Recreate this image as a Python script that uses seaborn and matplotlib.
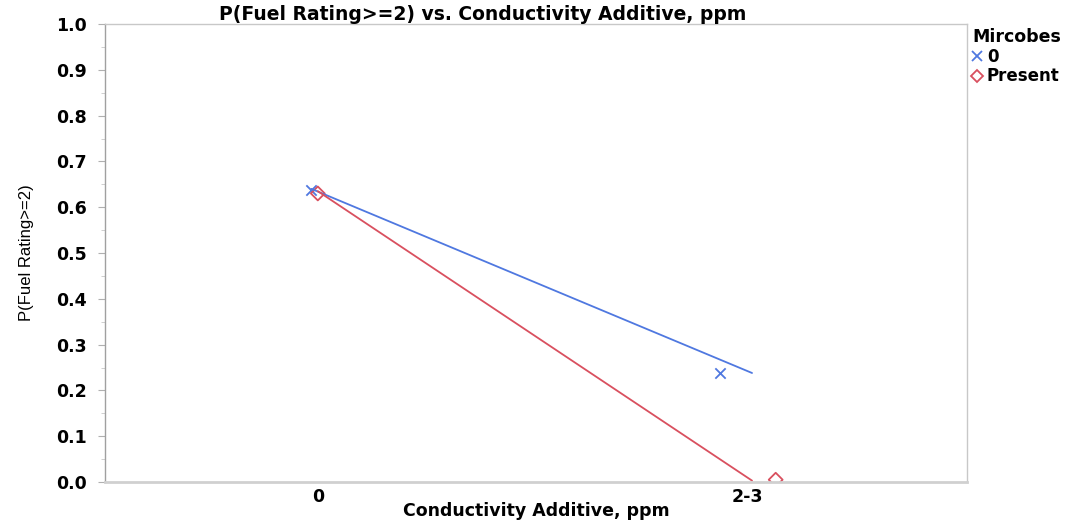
import numpy as np
import pandas as pd
import matplotlib
matplotlib.use("Agg")
import matplotlib.pyplot as plt
import seaborn as sns
from matplotlib.lines import Line2D
from matplotlib.ticker import MultipleLocator

# Categories on the x axis and the groups
categories = ["0", "2-3"]
groups = ["0", "Present"]

# Observed proportions per group
prob_none = [0.637, 0.237]
prob_present = [0.630, 0.005]

# Fitted line values per group
fit_none = [0.640, 0.238]
fit_present = [0.635, 0.003]

colors = {"0": "#4f78e0", "Present": "#d9505f"}
point_offsets = {"0": [-0.015, -0.065], "Present": [0.0, 0.065]}
line_offsets = {"0": [-0.015, 0.01], "Present": [0.0, 0.01]}

pts = pd.DataFrame({
    "pos": np.concatenate([np.arange(2) + np.array(point_offsets[g]) for g in groups]),
    "p": prob_none + prob_present,
    "grp": [groups[0]] * 2 + [groups[1]] * 2,
})
fits = pd.DataFrame({
    "pos": np.concatenate([np.arange(2) + np.array(line_offsets[g]) for g in groups]),
    "p": fit_none + fit_present,
    "grp": [groups[0]] * 2 + [groups[1]] * 2,
})

sns.set_style("white")
plt.rcParams["font.family"] = ["DejaVu Sans"]
plt.rcParams["text.color"] = "black"
plt.rcParams["axes.labelcolor"] = "black"
plt.rcParams["xtick.color"] = "black"
plt.rcParams["ytick.color"] = "black"

fig = plt.figure(figsize=(10.88, 5.21), dpi=100)
ax = fig.add_axes([105 / 1088, 1 - 482 / 521, (967 - 105) / 1088, (482 - 24) / 521])

sns.lineplot(data=fits, x="pos", y="p", hue="grp", palette=colors, ax=ax,
             legend=False, linewidth=1.3, sort=False)
sub = pts[pts.grp == groups[0]]
sns.scatterplot(data=sub, x="pos", y="p", color=colors[groups[0]], marker="x",
                s=55, linewidth=1.3, ax=ax, legend=False)
sub = pts[pts.grp == groups[1]]
sns.scatterplot(data=sub, x="pos", y="p", marker="D", s=50,
                facecolor="none", edgecolor=colors[groups[1]], linewidth=1.3,
                ax=ax, legend=False)

ax.set_xlim(-0.495, 1.51)
ax.set_ylim(0, 1.0)
ax.set_xticks([0, 1])
ax.set_xticklabels(categories)
yt = np.round(np.arange(0, 1.01, 0.1), 1)
ax.set_yticks(yt)
ax.set_yticklabels([f"{v:.1f}" for v in yt])
ax.yaxis.set_minor_locator(MultipleLocator(0.05))

for s in ax.spines.values():
    s.set_color("#c8c8c8")
    s.set_linewidth(1.0)
ax.spines["left"].set_color("#a0a0a0")
ax.spines["bottom"].set_color("#d0d0d0")
ax.spines["bottom"].set_linewidth(2)

ax.tick_params(axis="y", which="major", left=True, length=5, color="#b0b0b0",
               labelsize=12.5, pad=8)
ax.tick_params(axis="y", which="minor", left=True, length=3, color="#c8c8c8")
ax.tick_params(axis="x", bottom=False, length=0, labelsize=12.5, pad=4)
for lbl in ax.get_xticklabels() + ax.get_yticklabels():
    lbl.set_fontweight("bold")

ax.set_xlabel("Conductivity Additive, ppm", fontsize=12.5, fontweight="bold",
              va="center")
ax.xaxis.set_label_coords(0.5, -29 / 458)
ax.set_ylabel("P(Fuel Rating>=2)", fontsize=12,
              family=["Liberation Sans Narrow", "Liberation Sans", "DejaVu Sans"],
              labelpad=16)

fig.text(483 / 1088, 1 - 14 / 521, "P(Fuel Rating>=2) vs. Conductivity Additive, ppm",
         ha="center", va="center", fontsize=13.5, fontweight="bold")

handles = [
    Line2D([], [], color=colors["0"], marker="x", linestyle="none", markersize=7,
           markeredgewidth=1.3),
    Line2D([], [], color=colors["Present"], marker="D", linestyle="none", markersize=6,
           markerfacecolor="none", markeredgewidth=1.3),
]
leg = fig.legend(handles, groups, title="Mircobes", loc="upper left",
                 bbox_to_anchor=(972 / 1088, 1 - 28 / 521), frameon=False,
                 handlelength=0.6, handletextpad=0.3, borderaxespad=0,
                 borderpad=0, labelspacing=0.1, prop={"weight": "bold", "size": 12})
leg.get_title().set_fontweight("bold")
leg.get_title().set_fontsize(12.5)
leg._legend_box.align = "left"

fig.savefig("out.png", dpi=100)
